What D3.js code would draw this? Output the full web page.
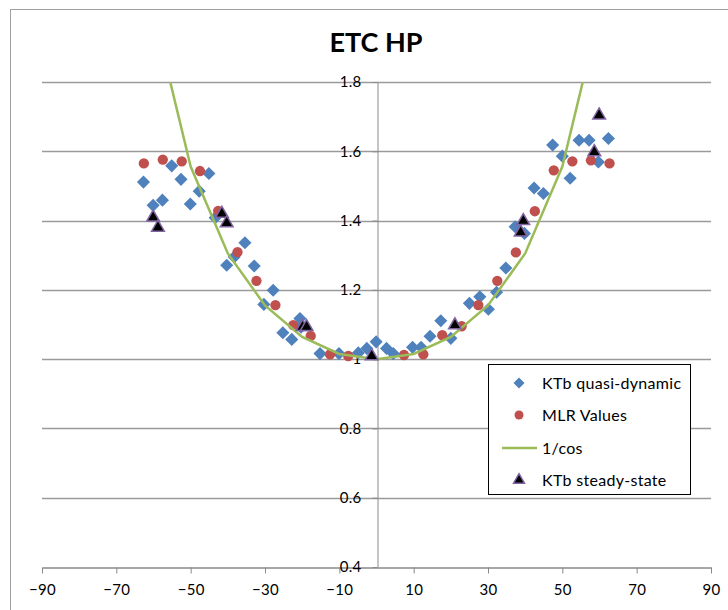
<!DOCTYPE html>
<html>
<head>
<meta charset="utf-8">
<script src="https://cdn.jsdelivr.net/npm/d3@7/dist/d3.min.js"></script>
<style>
  html, body { margin: 0; padding: 0; background: #fff; }
  svg { display: block; font-family: Lato, "Open Sans", sans-serif; }
</style>
</head>
<body>
<svg id="chart" width="728" height="610"></svg>
<script>
// Incidence angle (degrees) and correction factor values per series
const quasiX = [-62.7, -60.1, -57.6, -55.1, -52.6, -50.1, -47.7, -45.1, -43.4, -40.3, -38.3, -35.4, -32.9, -30.3, -27.8, -25.2, -22.8, -20.6, -20.3, -15.2, -10.1, -4.9, -2.6, -0.1, 2.7, 4.5, 9.7, 12.0, 14.4, 17.3, 20.0, 25.0, 27.8, 30.1, 32.3, 34.8, 37.3, 39.8, 42.4, 44.9, 47.4, 50.0, 52.1, 54.5, 57.2, 59.7, 62.4];
const quasiY = [1.511, 1.444, 1.459, 1.558, 1.519, 1.448, 1.485, 1.536, 1.408, 1.271, 1.295, 1.336, 1.269, 1.158, 1.199, 1.076, 1.057, 1.117, 1.092, 1.016, 1.016, 1.018, 1.031, 1.050, 1.031, 1.016, 1.034, 1.034, 1.066, 1.111, 1.060, 1.161, 1.180, 1.144, 1.193, 1.263, 1.382, 1.363, 1.494, 1.478, 1.618, 1.586, 1.522, 1.632, 1.632, 1.569, 1.637];

const mlrX = [-62.6, -57.5, -52.4, -47.5, -42.6, -37.4, -32.3, -27.2, -22.4, -17.7, -12.5, -7.6, 7.4, 12.6, 17.7, 22.9, 27.4, 32.5, 37.5, 42.6, 47.7, 52.7, 57.7, 62.7];
const mlrY = [1.565, 1.576, 1.571, 1.543, 1.428, 1.309, 1.226, 1.156, 1.098, 1.067, 1.014, 1.009, 1.012, 1.014, 1.069, 1.095, 1.156, 1.226, 1.308, 1.427, 1.545, 1.571, 1.574, 1.565];

const cosX = [-60, -50, -40, -30, -20, -10, 0, 10, 20, 30, 40, 50, 60];
const cosY = [2.0, 1.556, 1.305, 1.155, 1.064, 1.015, 1.0, 1.015, 1.064, 1.155, 1.305, 1.556, 2.0];

const steadyX = [-60.1, -58.8, -41.6, -40.3, -19.9, -18.8, -1.3, 21.1, 38.8, 39.5, 58.6, 59.9];
const steadyY = [1.409, 1.380, 1.420, 1.393, 1.093, 1.093, 1.009, 1.098, 1.366, 1.399, 1.598, 1.704];

const xTicks = [-90, -70, -50, -30, -10, 10, 30, 50, 70, 90];
const yTicks = [0.4, 0.6, 0.8, 1.0, 1.2, 1.4, 1.6, 1.8];
const yTickLabels = ["0.4", "0.6", "0.8", "1", "1.2", "1.4", "1.6", "1.8"];

const legendNames = ["KTb quasi-dynamic", "MLR Values", "1/cos", "KTb steady-state"];
const chartTitle = "ETC HP";

const colors = { quasi: "#4F81BD", mlr: "#C0504D", cos: "#9BBB59", steady: "#000000", steadyEdge: "#8064A2" };

const svg = d3.select("#chart");
const plot = { left: 42, right: 711, top: 82, bottom: 567 };

const x = d3.scaleLinear().domain([-90, 90]).range([plot.left, plot.right]);
const y = d3.scaleLinear().domain([0.4, 1.8]).range([plot.bottom, plot.top]);

// Chart area frame
svg.append("rect")
  .attr("x", 10.5).attr("y", 9.5)
  .attr("width", 740).attr("height", 620)
  .attr("fill", "#fff").attr("stroke", "#a0a0a0").attr("stroke-width", 1);

// Title
svg.append("text")
  .attr("x", 376).attr("y", 52)
  .attr("text-anchor", "middle")
  .attr("font-size", 27).attr("font-weight", "bold")
  .attr("fill", "#000")
  .text(chartTitle);

// Horizontal gridlines
svg.append("g").selectAll("line")
  .data(yTicks.slice(1))
  .join("line")
  .attr("x1", plot.left).attr("x2", plot.right)
  .attr("y1", d => Math.round(y(d)) + 0.5).attr("y2", d => Math.round(y(d)) + 0.5)
  .attr("stroke", "#9a9a9a").attr("stroke-width", 1.3);

// Horizontal axis (crosses at the bottom of the value range)
const xAxis = d3.axisBottom(x).tickValues(xTicks).tickSize(6).tickSizeOuter(0).tickFormat(d3.format("d"));
const gx = svg.append("g")
  .attr("transform", `translate(0,${Math.round(y(0.4)) + 0.5})`)
  .call(xAxis);
gx.select(".domain").attr("stroke", "#8a8a8a").attr("stroke-width", 1.3);
gx.selectAll(".tick line").attr("stroke", "#8a8a8a");
gx.selectAll(".tick text")
  .attr("font-family", "Lato, sans-serif").attr("font-size", 15).attr("fill", "#000")
  .attr("letter-spacing", 0.3)
  .attr("y", 17);

// Vertical axis at x = 0
const yAxis = d3.axisLeft(y).tickValues(yTicks).tickSize(5).tickSizeOuter(0)
  .tickFormat((d, i) => yTickLabels[i]);
const gy = svg.append("g")
  .attr("transform", `translate(${Math.round(x(0)) + 0.5},0)`)
  .call(yAxis);
gy.select(".domain").attr("stroke", "#8a8a8a").attr("stroke-width", 1);
gy.selectAll(".tick line").attr("stroke", "#8a8a8a");
gy.selectAll(".tick text")
  .attr("font-family", "Lato, sans-serif").attr("font-size", 15).attr("fill", "#000")
  .attr("letter-spacing", 0.3)
  .attr("x", -16);

// Clip series to the plot area
svg.append("defs").append("clipPath").attr("id", "plotClip")
  .append("rect")
  .attr("x", plot.left).attr("y", plot.top)
  .attr("width", plot.right - plot.left).attr("height", plot.bottom - plot.top);

const series = svg.append("g").attr("clip-path", "url(#plotClip)");

const diamond = d3.symbol().type(d3.symbolSquare).size(86)();
const circle = d3.symbol().type(d3.symbolCircle).size(84)();
const triangle = d3.symbol().type(d3.symbolTriangle).size(70)();

// KTb quasi-dynamic
series.append("g").selectAll("path")
  .data(d3.zip(quasiX, quasiY))
  .join("path")
  .attr("d", diamond)
  .attr("transform", d => `translate(${x(d[0])},${y(d[1])}) rotate(45)`)
  .attr("fill", colors.quasi);

// MLR values
series.append("g").selectAll("path")
  .data(d3.zip(mlrX, mlrY))
  .join("path")
  .attr("d", circle)
  .attr("transform", d => `translate(${x(d[0])},${y(d[1])})`)
  .attr("fill", colors.mlr);

// 1/cos reference curve
series.append("path")
  .datum(d3.zip(cosX, cosY))
  .attr("d", d3.line().x(d => x(d[0])).y(d => y(d[1])))
  .attr("fill", "none")
  .attr("stroke", colors.cos).attr("stroke-width", 2.5);

// KTb steady-state
series.append("g").selectAll("path")
  .data(d3.zip(steadyX, steadyY))
  .join("path")
  .attr("d", triangle)
  .attr("transform", d => `translate(${x(d[0])},${y(d[1])})`)
  .attr("fill", colors.steady)
  .attr("stroke", colors.steadyEdge).attr("stroke-width", 1.5);

// Legend
const legend = svg.append("g");
legend.append("rect")
  .attr("x", 488.5).attr("y", 364.5)
  .attr("width", 202).attr("height", 130)
  .attr("fill", "#fff").attr("stroke", "#000").attr("stroke-width", 1);

const rowY = [383, 415, 448, 480];
const markX = 519;

legend.append("path").attr("d", d3.symbol().type(d3.symbolSquare).size(60)())
  .attr("transform", `translate(${markX},${rowY[0]}) rotate(45)`).attr("fill", colors.quasi);
legend.append("path").attr("d", d3.symbol().type(d3.symbolCircle).size(64)())
  .attr("transform", `translate(${markX},${rowY[1]})`).attr("fill", colors.mlr);
legend.append("line")
  .attr("x1", 502).attr("x2", 537).attr("y1", rowY[2]).attr("y2", rowY[2])
  .attr("stroke", colors.cos).attr("stroke-width", 2.5);
legend.append("path").attr("d", d3.symbol().type(d3.symbolTriangle).size(52)())
  .attr("transform", `translate(${markX},${rowY[3]})`)
  .attr("fill", colors.steady).attr("stroke", colors.steadyEdge).attr("stroke-width", 1.5);

legend.selectAll("text.item")
  .data(legendNames)
  .join("text")
  .attr("class", "item")
  .attr("x", 542)
  .attr("y", (d, i) => rowY[i])
  .attr("dy", "0.36em")
  .attr("font-size", 16)
  .attr("letter-spacing", 0.3)
  .attr("fill", "#000")
  .text(d => d);
</script>
</body>
</html>
